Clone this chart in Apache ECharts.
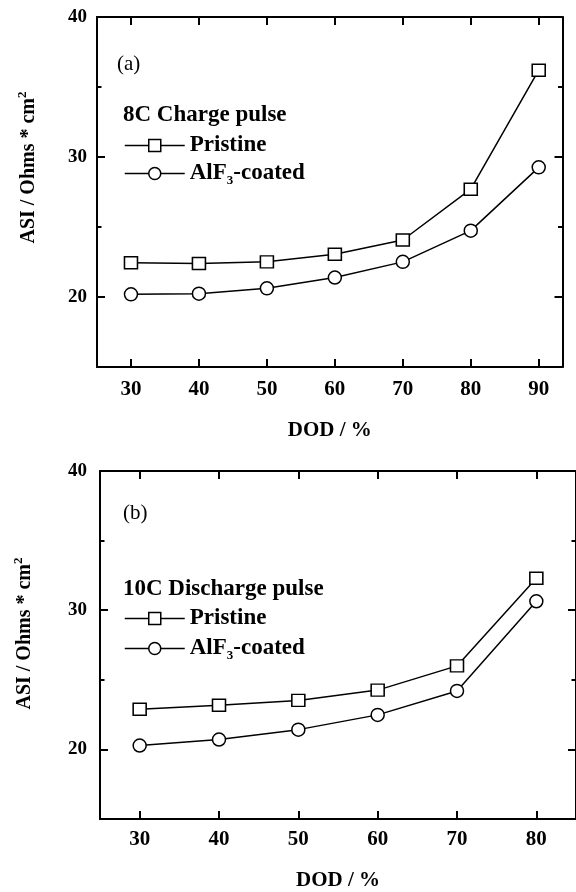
<!DOCTYPE html>
<html>
<head>
<meta charset="utf-8">
<script src="https://cdn.jsdelivr.net/npm/echarts@6/dist/echarts.min.js"></script>
<style>
  html, body { margin: 0; padding: 0; background: #fff; }
  #chart { width: 576px; height: 892px; }
</style>
</head>
<body>
<div id="chart"></div>
<script>
// panel (a): 8C charge pulse
var dodA = [30, 40, 50, 60, 70, 80, 90]
var pristineA = [22.44, 22.39, 22.51, 23.06, 24.07, 27.7, 36.2]
var coatedA = [20.19, 20.24, 20.62, 21.39, 22.51, 24.74, 29.26]
// panel (b): 10C discharge pulse
var dodB = [30, 40, 50, 60, 70, 80]
var pristineB = [22.88, 23.17, 23.52, 24.26, 26.0, 32.29]
var coatedB = [20.28, 20.71, 21.42, 22.48, 24.2, 30.64]
// tick labels
var xTicksA = [30, 40, 50, 60, 70, 80, 90]
var xTicksB = [30, 40, 50, 60, 70, 80]
var yTicks = [20, 30, 40]
var yMinorTicks = [25, 35]

var FONT = 'Liberation Serif'
var black = '#000'

function pairs (xs, ys) {
  return xs.map(function (x, i) { return [x, ys[i]] })
}

// bottom axis with labels + top axis with ticks only
function makeXAxes (grid, max, ticks, nameGap, labelMargin) {
  var base = {
    type: 'value',
    gridIndex: grid,
    min: 25,
    max: max,
    splitLine: { show: false },
    axisLine: { show: true, lineStyle: { color: black, width: 2 } },
    axisTick: { inside: true, length: 8, lineStyle: { color: black, width: 2 }, customValues: ticks }
  }
  var bottom = Object.assign({}, base, {
    position: 'bottom',
    name: 'DOD / %',
    nameLocation: 'middle',
    nameGap: nameGap,
    nameTextStyle: { fontFamily: FONT, fontWeight: 'bold', fontSize: 21, color: black },
    axisLabel: { customValues: ticks, margin: labelMargin, fontFamily: FONT, fontWeight: 'bold', fontSize: 21, color: black }
  })
  var top = Object.assign({}, base, { position: 'top', axisLabel: { show: false } })
  return [bottom, top]
}

// left/right axes, long ticks at 20/30, short ones at 25/35
function makeYAxes (grid, nameGap, namePad, labelMargin) {
  var list = []
  ;['left', 'right'].forEach(function (pos) {
    list.push({
      type: 'value',
      gridIndex: grid,
      position: pos,
      min: 15,
      max: 40,
      splitLine: { show: false },
      axisLine: { show: true, lineStyle: { color: black, width: 2 } },
      axisTick: { inside: true, length: 8, lineStyle: { color: black, width: 2 }, customValues: yTicks },
      axisLabel: pos === 'left'
        ? { customValues: yTicks, margin: labelMargin, fontFamily: FONT, fontWeight: 'bold', fontSize: 19, color: black }
        : { show: false },
      name: pos === 'left' ? 'ASI / Ohms * cm{sup|2}' : '',
      nameLocation: 'middle',
      nameGap: nameGap,
      nameTextStyle: {
        fontFamily: FONT,
        fontWeight: 'bold',
        fontSize: 20,
        color: black,
        padding: [0, 0, 0, namePad],
        rich: { sup: { fontFamily: FONT, fontWeight: 'bold', fontSize: 13, color: black, padding: [0, 0, 12, 0] } }
      }
    })
    list.push({
      type: 'value',
      gridIndex: grid,
      position: pos,
      min: 15,
      max: 40,
      splitLine: { show: false },
      axisLine: { show: false },
      axisTick: { inside: true, length: 4.5, lineStyle: { color: black, width: 2 }, customValues: yMinorTicks },
      axisLabel: { show: false }
    })
  })
  return list
}

function makeSeries (name, symbol, size, data, xi, yi) {
  return {
    name: name,
    type: 'line',
    xAxisIndex: xi,
    yAxisIndex: yi,
    data: data,
    symbol: symbol,
    symbolSize: size,
    lineStyle: { color: black, width: 1.5 },
    itemStyle: { color: '#fff', borderColor: black, borderWidth: 1.5 },
    z: 3
  }
}

function makeLegend (top, gap) {
  return {
    orient: 'vertical',
    left: 124,
    top: top,
    padding: 0,
    itemGap: gap,
    itemWidth: 60,
    itemHeight: 15,
    selectedMode: false,
    data: ['Pristine', 'AlF3-coated'],
    formatter: function (n) {
      return n === 'AlF3-coated' ? 'AlF{sub|3}-coated' : n
    },
    lineStyle: { color: black, width: 1.5 },
    itemStyle: { color: '#fff', borderColor: black, borderWidth: 1.5 },
    textStyle: {
      fontFamily: FONT,
      fontWeight: 'bold',
      fontSize: 23,
      color: black,
      rich: { sub: { fontFamily: FONT, fontWeight: 'bold', fontSize: 13, color: black, padding: [15, 0, 0, 0] } }
    }
  }
}

function label (text, left, top, bold, size) {
  return {
    text: text,
    left: left,
    top: top,
    padding: 0,
    textStyle: { fontFamily: FONT, fontWeight: bold ? 'bold' : 'normal', fontSize: size, color: black }
  }
}

var chart = echarts.init(document.getElementById('chart'))
chart.setOption({
  animation: false,
  backgroundColor: '#fff',
  title: [
    label('(a)', 117, 54, false, 21),
    label('8C Charge pulse', 123, 104, true, 23),
    label('(b)', 123, 503, false, 21),
    label('10C Discharge pulse', 123, 578, true, 23)
  ],
  legend: [makeLegend(134, 5), makeLegend(607, 7)],
  grid: [
    { left: 97, right: 13.5, top: 17, height: 350 },
    { left: 100, right: -4, top: 471, height: 354 }
  ],
  xAxis: makeXAxes(0, 93.5, xTicksA, 53, 12).concat(makeXAxes(1, 85, xTicksB, 51, 10)),
  yAxis: makeYAxes(0, 56, 49, 10).concat(makeYAxes(1, 63, 23, 13)),
  series: [
    makeSeries('Pristine', 'rect', [13, 12], pairs(dodA, pristineA), 0, 0),
    makeSeries('AlF3-coated', 'circle', 13, pairs(dodA, coatedA), 0, 0),
    makeSeries('Pristine', 'rect', [13, 12], pairs(dodB, pristineB), 2, 4),
    makeSeries('AlF3-coated', 'circle', 13, pairs(dodB, coatedB), 2, 4)
  ]
})
</script>
</body>
</html>
